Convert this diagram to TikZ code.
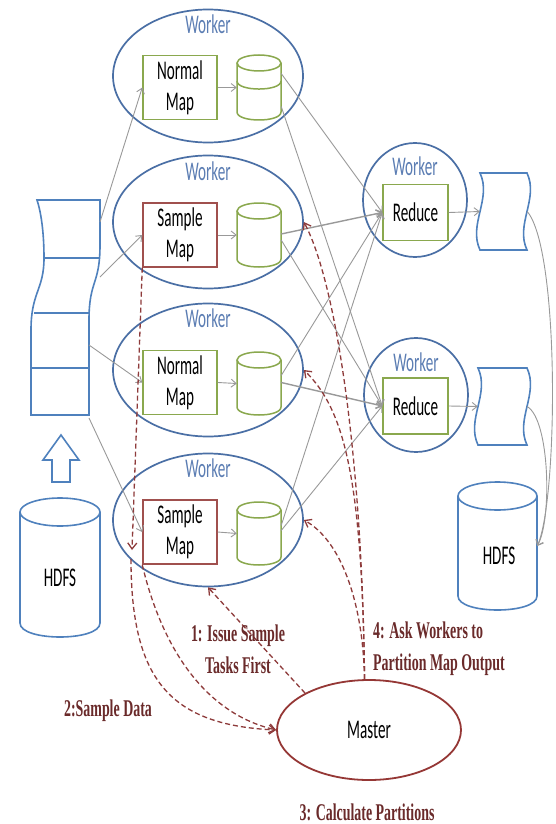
\documentclass[tikz,border=0pt]{standalone}
\usepackage{fontspec}
\newfontfamily\wfont[FakeStretch=0.56]{Carlito}
\newfontfamily\lfont[FakeStretch=0.58]{Liberation Serif}
\usetikzlibrary{shapes.geometric,arrows.meta,calc}
\definecolor{wblue}{HTML}{4A6FA5}
\definecolor{wtext}{HTML}{5B7DB3}
\definecolor{dblue}{HTML}{4F81BD}
\definecolor{mgreen}{HTML}{8AA84E}
\definecolor{sred}{HTML}{A0504E}
\definecolor{arrgray}{HTML}{999999}
\definecolor{dred}{HTML}{8E3B3B}
\definecolor{mred}{HTML}{953735}
\definecolor{ltext}{HTML}{6A2A2A}
\tikzset{
  pics/cyl/.style n args={4}{code={
    \draw[#4,fill=white] (0,#3) -- (0,#2-#3) .. controls (0,#2+0.333*#3) and (#1,#2+0.333*#3) .. (#1,#2-#3) -- (#1,#3);
    \draw[#4] (#1/2,#3) ellipse [x radius=#1/2, y radius=#3];
  }},
  pics/doc/.style n args={3}{code={
    \draw[draw=dblue,line width=1.6pt,fill=white] (0,0) -- (#1,0) .. controls (#1+#3,#2/3) and (#1-#3,2*#2/3) .. (#1,#2) -- (0,#2) .. controls (-#3,2*#2/3) and (#3,#2/3) .. (0,0) -- cycle;
  }}
}
\begin{document}
\begin{tikzpicture}[x=1pt,y=-1pt,
  worker/.style={ellipse,draw=wblue,line width=1.7pt,inner sep=0pt,minimum width=190pt,minimum height=133pt},
  rworker/.style={ellipse,draw=wblue,line width=1.7pt,inner sep=0pt,minimum width=104pt,minimum height=114pt},
  wlabel/.style={font=\wfont\fontsize{27}{31}\selectfont,text=wtext,inner sep=0pt},
  mapbox/.style={rectangle,draw,line width=1.5pt,fill=white,minimum width=74pt,minimum height=64pt,inner sep=0pt,align=center,font=\wfont\fontsize{27}{31}\selectfont},
  normalbox/.style={mapbox,draw=mgreen},
  samplebox/.style={mapbox,draw=sred},
  reducebox/.style={mapbox,draw=mgreen,minimum width=65pt,minimum height=56pt},
  holder/.style={rectangle,inner sep=0pt},
  bluestroke/.style={draw=dblue,line width=1.6pt},
  greenstroke/.style={draw=mgreen,line width=1.5pt},
  flow/.style={draw=arrgray,line width=0.9pt,-{Straight Barb[length=5pt,width=8pt]}},
  flowthick/.style={flow,line width=1.4pt},
  ctrl/.style={draw=dred,line width=1.3pt,dash pattern=on 5pt off 3pt,-{Straight Barb[length=6pt,width=9pt]}},
  steplabel/.style={font=\lfont\bfseries\fontsize{24}{32}\selectfont,text=ltext,inner sep=0pt},
  txt/.style={font=\wfont\fontsize{27}{31}\selectfont,inner sep=0pt}
]
\fill[white] (0,0) rectangle (555,824);
\useasboundingbox (0,0) rectangle (555,824);

% map workers
\node[worker] (w1) at (208,76) {};
\node[worker] (w2) at (208,222) {};
\node[worker] (w3) at (208,370) {};
\node[worker] (w4) at (208,520) {};
\node[wlabel] (w1l) at (208,24) {Worker};
\node[wlabel] (w2l) at (208,171) {Worker};
\node[wlabel] (w3l) at (208,318) {Worker};
\node[wlabel] (w4l) at (208,468) {Worker};

\node[normalbox] (m1) at (180,87.5) {Normal\\Map};
\node[samplebox] (m2) at (180,235) {Sample\\Map};
\node[normalbox] (m3) at (180,382.5) {Normal\\Map};
\node[samplebox] (m4) at (180,532) {Sample\\Map};

% map output cylinders
\pic at (237,55) {cyl={44}{65}{8}{greenstroke}};
\draw[greenstroke] (237,81) .. controls (237,91.7) and (281,91.7) .. (281,81);
\pic at (237,203) {cyl={44}{64}{8}{greenstroke}};
\pic at (237,352) {cyl={44}{63}{8}{greenstroke}};
\pic at (237,502) {cyl={44}{63}{8}{greenstroke}};
\node[holder,minimum width=44pt,minimum height=65pt] (c1) at (259,87.5) {};
\node[holder,minimum width=44pt,minimum height=64pt] (c2) at (259,235) {};
\node[holder,minimum width=44pt,minimum height=63pt] (c3) at (259,383.5) {};
\node[holder,minimum width=44pt,minimum height=63pt] (c4) at (259,533.5) {};

% reduce workers
\node[rworker] (r1) at (415,200) {};
\node[rworker] (r2) at (416,395) {};
\node[wlabel] (r1l) at (415,166) {Worker};
\node[wlabel] (r2l) at (416,362) {Worker};
\node[reducebox] (rb1) at (415.5,212.5) {Reduce};
\node[reducebox] (rb2) at (415.5,406) {Reduce};

% output documents
\pic at (480,173) {doc={47}{77}{12}};
\pic at (478,368) {doc={49}{77}{12}};
\node[holder,minimum width=47pt,minimum height=77pt] (d1) at (503.5,211.5) {};
\node[holder,minimum width=49pt,minimum height=77pt] (d2) at (502.5,406.5) {};

% input split stack
\draw[bluestroke,fill=white] (37,200) -- (100,200) -- (100,245) .. controls (100,285) and (89,280) .. (89,320) -- (89,415) -- (31,415) -- (31,330) .. controls (31,292) and (44,290) .. (44,258) .. controls (44,232) and (41,212) .. (37,200) -- cycle;
\draw[bluestroke] (44,258) -- (100,258);
\draw[bluestroke] (34,313) -- (90,313);
\draw[bluestroke] (31,368) -- (89,368);
\coordinate (s1) at (100,222);
\coordinate (s2) at (100,277);
\coordinate (s3) at (89,345);
\coordinate (s4) at (89,418);

% block arrow
\draw[bluestroke,fill=white] (61,435) -- (79,460) -- (70,460) -- (70,482) -- (52,482) -- (52,460) -- (43,460) -- cycle;

% HDFS cylinders
\pic at (20,498) {cyl={80}{139}{14}{bluestroke}};
\node[txt] (hdfs1) at (60,578) {HDFS};
\pic at (458,482) {cyl={79}{128}{14}{bluestroke}};
\node[holder,minimum width=79pt,minimum height=128pt] (hdfs2) at (497.5,546) {};
\node[txt] (hdfs2t) at (499,556) {HDFS};

% master
\node[ellipse,draw=mred,line width=1.8pt,minimum width=184pt,minimum height=100pt,inner sep=0pt,font=\wfont\fontsize{27}{31}\selectfont] (master) at (369,730) {Master};

% data flow
\draw[flow] (s1) -- (m1.west);
\draw[flow] (s2) -- (m2.west);
\draw[flow] (s3) -- (m3.west);
\draw[flow] (s4) -- (m4.west);
\draw[flow] (m1.east) -- (c1.west);
\draw[flow] (m2.east) -- (c2.west);
\draw[flow] (m3.east) -- (c3.west);
\draw[flow] (m4.east) -- (c4.west);
\draw[flow] ($(c1.east)+(0,-14)$) -- (rb1.west);
\draw[flow] ($(c1.east)+(0,19)$) -- (rb2.west);
\draw[flowthick] ($(c2.east)+(0,-1)$) -- (rb1.west);
\draw[flow] ($(c2.east)+(0,5)$) -- (rb2.west);
\draw[flow] ($(c3.east)+(0,-8)$) -- (rb1.west);
\draw[flowthick] ($(c3.east)+(0,-1)$) -- (rb2.west);
\draw[flow] ($(c4.east)+(0,-8)$) -- (rb1.west);
\draw[flow] ($(c4.east)+(0,-3)$) -- (rb2.west);
\draw[flow] (rb1.east) -- (d1.west);
\draw[flow] (rb2.east) -- (d2.west);
\draw[flow] (d1.east) .. controls (560,250) and (558,500) .. (hdfs2.east);
\draw[flow] (d2.east) .. controls (550,420) and (552,520) .. (hdfs2.east);

% control flow
\coordinate (q1) at (132,550);
\coordinate (q2) at (131,559);
\draw[ctrl] (master.150) -- (w4.south);
\draw[ctrl] (master.95) .. controls (362,450) and (335,280) .. (w2.east);
\draw[ctrl] (master.95) .. controls (362,480) and (345,410) .. (w3.east);
\draw[ctrl] (master.95) .. controls (363,600) and (340,540) .. (w4.east);
\draw[ctrl] (m2.south west) -- (q1);
\draw[ctrl] (q2) .. controls (131,680) and (170,725) .. (master.west);
\draw[ctrl] (m4.south west) .. controls (160,640) and (200,712) .. (master.west);

% step labels
\node[steplabel,align=center] (l1) at (238,649) {1: Issue Sample\\Tasks First};
\node[steplabel,align=left,anchor=west] (l4) at (373,649) {4: Ask Workers to\\Partition Map Output};
\node[steplabel] (l2) at (108,711) {2:Sample Data};
\node[steplabel] (l3) at (367,812) {3: Calculate Partitions};
\end{tikzpicture}
\end{document}
